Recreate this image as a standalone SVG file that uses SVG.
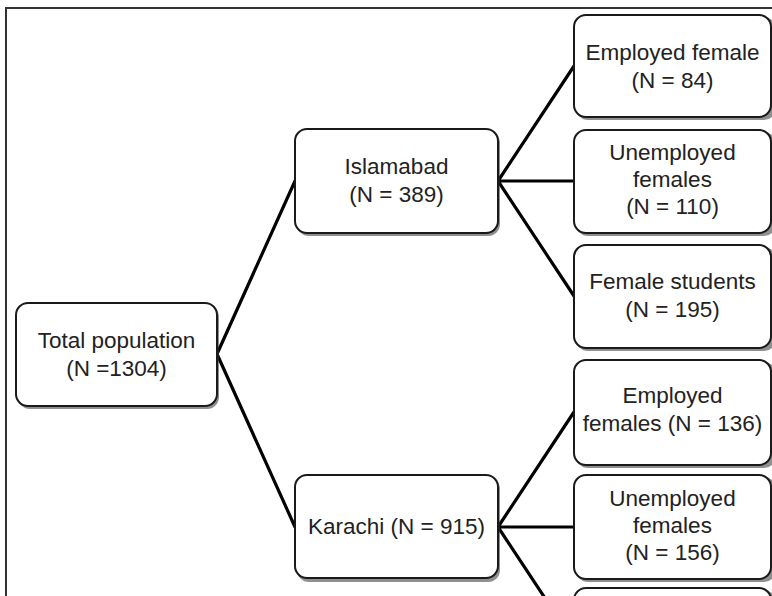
<svg xmlns="http://www.w3.org/2000/svg" width="772" height="596" viewBox="0 0 772 596">
<style>
.box{fill:#fff;stroke:#1a1a1a;stroke-width:2}
.sh{fill:#333;opacity:0.55}
.t{font-family:"Liberation Sans",Arial,sans-serif;font-size:22.5px;fill:#222;text-anchor:middle}
.c{stroke:#000;stroke-width:3.2;fill:none;stroke-linecap:round}
</style>
<rect x="0" y="0" width="772" height="596" fill="#fff"/>
<path d="M6 596 V8 H772" fill="none" stroke="#333" stroke-width="2"/>
<g id="connectors">
<path class="c" d="M217 354 L295 181 M217 354 L295 527"/>
<path class="c" d="M498 181 L574 66 M498 181 L574 181 M498 181 L574 296"/>
<path class="c" d="M498 527 L574 412 M498 527 L574 527 M498 527 L574 642"/>
</g>
<g id="total">
<rect class="sh" x="18" y="305" width="201" height="104" rx="12"/>
<rect class="box" x="16" y="303" width="201" height="103" rx="12"/>
<text class="t" x="116.5" y="348">Total population</text>
<text class="t" x="116.5" y="376">(N =1304)</text>
</g>
<g id="islamabad">
<rect class="sh" x="297" y="131" width="203" height="105" rx="12"/>
<rect class="box" x="295" y="129" width="203" height="104" rx="12"/>
<text class="t" x="396.5" y="174">Islamabad</text>
<text class="t" x="396.5" y="202">(N = 389)</text>
</g>
<g id="karachi">
<rect class="sh" x="297" y="477" width="203" height="105" rx="12"/>
<rect class="box" x="295" y="475" width="203" height="103" rx="12"/>
<text class="t" x="396.5" y="534">Karachi (N = 915)</text>
</g>
<g id="isl-employed">
<rect class="sh" x="576" y="17" width="200" height="103" rx="12"/>
<rect class="box" x="574" y="15" width="197" height="102" rx="12"/>
<text class="t" x="672.5" y="60">Employed female</text>
<text class="t" x="672.5" y="88">(N = 84)</text>
</g>
<g id="isl-unemployed">
<rect class="sh" x="576" y="132" width="200" height="104" rx="12"/>
<rect class="box" x="574" y="130" width="197" height="103" rx="12"/>
<text class="t" x="672.5" y="160">Unemployed</text>
<text class="t" x="672.5" y="187">females</text>
<text class="t" x="672.5" y="214">(N = 110)</text>
</g>
<g id="isl-students">
<rect class="sh" x="576" y="247" width="200" height="104" rx="12"/>
<rect class="box" x="574" y="245" width="197" height="103" rx="12"/>
<text class="t" x="672.5" y="289">Female students</text>
<text class="t" x="672.5" y="317">(N = 195)</text>
</g>
<g id="kar-employed">
<rect class="sh" x="576" y="362" width="200" height="106" rx="12"/>
<rect class="box" x="574" y="360" width="197" height="105" rx="12"/>
<text class="t" x="672.5" y="403">Employed</text>
<text class="t" x="672.5" y="431">females (N = 136)</text>
</g>
<g id="kar-unemployed">
<rect class="sh" x="576" y="477" width="200" height="105" rx="12"/>
<rect class="box" x="574" y="475" width="197" height="104" rx="12"/>
<text class="t" x="672.5" y="506">Unemployed</text>
<text class="t" x="672.5" y="533">females</text>
<text class="t" x="672.5" y="560">(N = 156)</text>
</g>
<g id="kar-third">
<rect class="sh" x="576" y="590" width="200" height="60" rx="12"/>
<rect class="box" x="574" y="588" width="197" height="60" rx="12"/>
</g>
</svg>
